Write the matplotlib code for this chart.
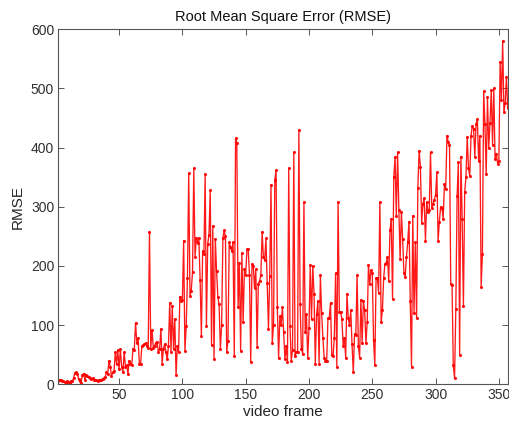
import numpy as np
import matplotlib
matplotlib.use("Agg")
import matplotlib.pyplot as plt

# RMSE per video frame (frames 2..357)
rmse_a = [5, 8, 7, 6, 5, 4, 3, 5, 4, 3, 6, 5, 10, 19, 20, 18, 9, 5, 3, 15,
          18, 8, 16, 14, 12, 10, 9, 10, 8, 8, 7, 6, 7, 8, 8, 9, 10, 12,
          20, 18, 40, 30, 14, 20, 22, 54, 35, 58, 25, 60, 30, 20, 55, 30,
          32, 18, 40, 35, 32, 60, 58, 104, 70, 78, 35, 35, 65, 66, 68, 70,
          65, 62, 258, 60, 92, 62, 65, 70, 72, 55, 60, 93, 35, 60, 68, 55,
          42, 65, 138, 55, 133, 60, 110, 15, 65, 55, 148, 140, 143, 243]
rmse_b = [56, 98, 180, 357, 150, 158, 190, 365, 215, 248, 238, 247, 177, 82,
          225, 220, 355, 98, 237, 253, 328, 67, 268, 42, 245, 192, 148, 135,
          60, 100, 248, 260, 250, 55, 73, 240, 232, 225, 240, 48, 416, 408,
          130, 205, 57, 222, 105, 195, 185, 228, 228, 185, 38, 203, 200, 162,
          195, 63, 170, 175, 185, 258, 215, 210, 247, 172, 93, 183, 337, 70,
          100, 345, 362, 130, 45, 115, 100, 130, 88, 42, 65, 38, 365, 98, 40,
          58, 392, 48, 55, 55, 430, 135, 60, 52, 308, 88, 118, 45, 95, 202]
rmse_c = [110, 200, 152, 35, 118, 140, 35, 185, 120, 78, 45, 40, 40, 112,
          112, 138, 50, 47, 78, 188, 30, 308, 122, 122, 110, 65, 78, 45, 153,
          112, 100, 125, 68, 20, 85, 83, 185, 65, 45, 143, 70, 140, 125, 70,
          105, 202, 170, 193, 188, 75, 32, 180, 180, 155, 308, 105, 125, 180,
          203, 205, 215, 175, 260, 280, 145, 350, 385, 285, 392, 295, 212,
          292, 245, 188, 182, 215, 240, 275, 140, 30, 285, 120, 240, 112, 332,
          395, 368, 272, 305, 315, 243, 308, 292, 295, 392, 298, 305, 312,
          320, 358]
rmse_d = [242, 275, 300, 298, 280, 338, 330, 420, 410, 405, 170, 168, 32, 10,
          128, 318, 375, 50, 385, 280, 132, 325, 350, 418, 365, 352, 420, 437,
          432, 385, 440, 448, 378, 420, 165, 220, 495, 440, 355, 485, 400,
          442, 497, 405, 500, 380, 390, 373, 378, 545, 480, 580, 460, 475,
          520, 467]
rmse = np.array(rmse_a + rmse_b + rmse_c + rmse_d, dtype=float)
frames = np.arange(2, 2 + len(rmse))

x_ticks = [50, 100, 150, 200, 250, 300, 350]
y_ticks = [0, 100, 200, 300, 400, 500, 600]

plt.rcParams['font.family'] = ['Liberation Sans', 'DejaVu Sans']

fig = plt.figure(figsize=(5.09, 4.25), dpi=100)
ax = fig.add_axes([0.1146, 0.0958, 0.9975 - 0.1146, 0.931 - 0.0958])

ax.plot(frames, rmse, color='#ff0000', lw=0.95, marker='.', ms=2.5,
        alpha=0.9)

ax.set_xlim(frames[0], frames[-1])
ax.set_ylim(0, 600)
ax.set_xticks(x_ticks)
ax.set_yticks(y_ticks)

spine_c = '#555555'
for s in ax.spines.values():
    s.set_color(spine_c)
    s.set_linewidth(0.8)
ax.tick_params(direction='in', length=4, width=0.7, color=spine_c,
               top=True, right=True, labelsize=10, labelcolor='#303030',
               pad=3)

ax.set_title('Root Mean Square Error (RMSE)', fontsize=10.5, color='#111111',
             pad=6)
ax.set_xlabel('video frame', fontsize=11, color='#262626', labelpad=2)
ax.set_ylabel('RMSE', fontsize=11, color='#262626', labelpad=4)

fig.savefig('out.png', dpi=100)
